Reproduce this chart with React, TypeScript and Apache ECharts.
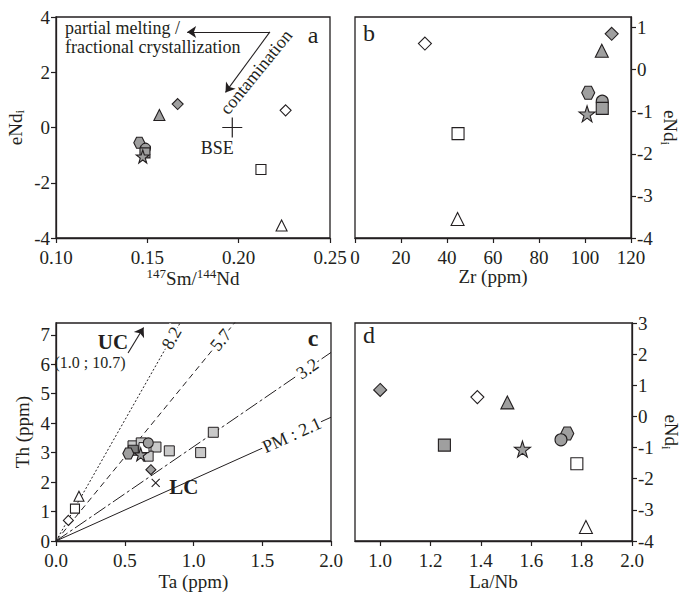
import React, { useEffect, useRef } from "react";
import * as echarts from "echarts";

// ---------- data ----------
// samples shared by panels a, b, d
const sampleIds = ["hex", "circ", "sq", "star", "tri", "dia", "oDia", "oSq", "oTri"];
const eNd = [-0.55, -0.75, -0.92, -1.05, 0.45, 0.85, 0.62, -1.52, -3.55];
const smNd = [0.1456, 0.149, 0.1487, 0.1475, 0.1566, 0.1666, 0.2257, 0.2122, 0.2235];
const zr = [101.4, 107.5, 107.5, 100.9, 107.3, 111.6, 30.4, 44.8, 44.6];
const laNb = [1.743, 1.718, 1.255, 1.565, 1.505, 1.0, 1.386, 1.781, 1.817];

// BSE reference point (panel a)
const bse = [0.1965, 0];

// panel c
const cSqTa = [0.56, 0.62, 0.727, 0.67, 0.824, 1.052, 1.144];
const cSqTh = [3.23, 3.33, 3.19, 2.88, 3.06, 3.0, 3.69];
const cWhiteSq = [0.64, 3.17];
const cDarkSq = [0.562, 3.08];
const cCircle = [0.671, 3.33];
const cHex = [0.526, 2.97];
const cStar = [0.616, 2.94];
const cDia = [0.69, 2.42];
const cOpenIds = ["oDia", "oSq", "oTri"];
const cOpenTa = [0.09, 0.138, 0.167];
const cOpenTh = [0.7, 1.1, 1.52];
const lc = [0.725, 1.97];
const refSlopes = [8.2, 5.7, 3.2, 2.1];
const refLabels = ["8.2", "5.7", "3.2", "PM : 2.1"];
const refLabelTa = [0.84, 1.198, 1.828, 1.714];

// annotation arrows (data coordinates)
const arrowPM = [[0.2171, 3.46], [0.1718, 3.46]];
const arrowCont = [[0.2171, 3.46], [0.1928, 1.27]];
const arrowUC = [[0.524, 6.38], [0.637, 7.25]];

// tick values
const bYTicks = [-4, -3, -2, -1, 0, 1];
const cYTicks = [0, 1, 2, 3, 4, 5, 6, 7];
const dXTicks = [1.0, 1.2, 1.4, 1.6, 1.8, 2.0];

// ---------- styles ----------
const FONT = '"Liberation Serif", "DejaVu Serif", serif';
const INK = "#231f20";
const GRAY = "#9f9f9f";
const LIGHT = "#c9c9c9";
const DARK = "#7d7d7d";
const HEX = "path://M25,0L75,0L100,43.3L75,86.6L25,86.6L0,43.3Z";
const STAR =
  "path://M50,0L61.8,35.1L98.5,35.1L68.8,57L79.4,91.1L50,70L20.6,91.1L31.2,57L1.5,35.1L38.2,35.1Z";
const PLUS = "path://M0,10L20,10M10,0L10,20";
const CROSS = "path://M0,0L10,10M10,0L0,10";

const symStyle: Record<string, { symbol: string; fill: string; k: number }> = {
  hex: { symbol: HEX, fill: GRAY, k: 1.0 },
  circ: { symbol: "circle", fill: GRAY, k: 0.95 },
  sq: { symbol: "rect", fill: GRAY, k: 0.9 },
  star: { symbol: STAR, fill: GRAY, k: 1.2 },
  tri: { symbol: "triangle", fill: GRAY, k: 1.0 },
  dia: { symbol: "diamond", fill: GRAY, k: 1.0 },
  oDia: { symbol: "diamond", fill: "#ffffff", k: 1.0 },
  oSq: { symbol: "rect", fill: "#ffffff", k: 0.9 },
  oTri: { symbol: "triangle", fill: "#ffffff", k: 1.0 },
};

const item = (id: string, value: number[], base: number) => {
  const s = symStyle[id];
  return {
    value,
    symbol: s.symbol,
    symbolSize: Math.round(base * s.k),
    itemStyle: { color: s.fill, borderColor: INK, borderWidth: 1.1, opacity: 1 },
  };
};

const axisCommon = {
  axisLine: { show: true, onZero: false, lineStyle: { color: INK, width: 1.3 } },
  axisTick: { show: true, inside: false, length: 5, lineStyle: { color: INK, width: 1.2 } },
  splitLine: { show: false },
  axisLabel: { color: INK, fontFamily: FONT, fontSize: 19, margin: 6, lineHeight: 16 },
  nameTextStyle: { color: INK, fontFamily: FONT, fontSize: 19 },
  nameLocation: "middle" as const,
};

const richSS = {
  sup: { fontSize: 13, fontFamily: FONT, color: INK, padding: [0, 0, 9, 0] },
  sub: { fontSize: 13, fontFamily: FONT, color: INK, padding: [9, 0, 0, 0] },
};

const labelText = {
  color: INK,
  fontFamily: FONT,
  textBorderWidth: 0,
  textBorderColor: "transparent",
  textShadowBlur: 0,
};

const arrowLine = (pairs: number[][][]) => ({
  silent: true,
  symbol: ["none", "arrow"],
  symbolSize: 9,
  label: { show: false },
  itemStyle: { color: INK, opacity: 1 },
  lineStyle: { color: INK, width: 1.1, type: "solid", opacity: 1 },
  data: pairs.map((p) => [{ coord: p[0] }, { coord: p[1] }]),
});

export default function App() {
  const ref = useRef<HTMLDivElement>(null);
  useEffect(() => {
    if (!ref.current) return;
    const chart = echarts.init(ref.current, null, { renderer: "svg" });

    const dashTypes: any[] = [[2, 2], [6, 4], [14, 3, 3, 3], "solid"];

    const option: any = {
      animation: false,
      backgroundColor: "#ffffff",
      grid: [
        { left: 56, top: 17, width: 274, height: 221, show: true, borderColor: INK, borderWidth: 1.3, backgroundColor: "transparent" },
        { left: 355, top: 17, width: 276, height: 221, show: true, borderColor: INK, borderWidth: 1.3, backgroundColor: "transparent" },
        { left: 56, top: 323, width: 275, height: 218, show: true, borderColor: INK, borderWidth: 1.3, backgroundColor: "transparent" },
        { left: 355, top: 323, width: 277, height: 218, show: true, borderColor: INK, borderWidth: 1.3, backgroundColor: "transparent" },
      ],
      xAxis: [
        {
          ...axisCommon, gridIndex: 0, type: "value", min: 0.1, max: 0.25, interval: 0.05,
          axisLabel: { ...axisCommon.axisLabel, margin: 11, formatter: (v: number) => v.toFixed(2) },
          name: "{sup|147}Sm/{sup|144}Nd", nameGap: 27,
          nameTextStyle: { ...axisCommon.nameTextStyle, rich: richSS },
        },
        {
          ...axisCommon, gridIndex: 1, type: "value", min: 0, max: 120, interval: 20,
          axisLabel: { ...axisCommon.axisLabel, margin: 11 },
          name: "Zr (ppm)", nameGap: 25,
        },
        {
          ...axisCommon, gridIndex: 2, type: "value", min: 0, max: 2, interval: 0.5,
          axisLabel: { ...axisCommon.axisLabel, margin: 11, formatter: (v: number) => v.toFixed(1) },
          name: "Ta (ppm)", nameGap: 31,
        },
        {
          ...axisCommon, gridIndex: 3, type: "value", min: 0.9, max: 2.0,
          axisTick: { ...axisCommon.axisTick, customValues: dXTicks },
          axisLabel: { ...axisCommon.axisLabel, margin: 11, customValues: dXTicks, formatter: (v: number) => v.toFixed(1) },
          name: "La/Nb", nameGap: 31,
        },
      ],
      yAxis: [
        {
          ...axisCommon, gridIndex: 0, type: "value", position: "left", min: -4, max: 4, interval: 2,
          name: "eNd{sub|i}", nameGap: 30, nameRotate: 90,
          nameTextStyle: { ...axisCommon.nameTextStyle, rich: richSS },
        },
        {
          ...axisCommon, gridIndex: 1, type: "value", position: "right", min: -4, max: 1.25,
          axisTick: { ...axisCommon.axisTick, customValues: bYTicks },
          axisLabel: { ...axisCommon.axisLabel, customValues: bYTicks },
          name: "eNd{sub|i}", nameGap: 28, nameRotate: -90,
          nameTextStyle: { ...axisCommon.nameTextStyle, rich: richSS },
        },
        {
          ...axisCommon, gridIndex: 2, type: "value", position: "left", min: 0, max: 7.4,
          axisTick: { ...axisCommon.axisTick, customValues: cYTicks },
          axisLabel: { ...axisCommon.axisLabel, customValues: cYTicks },
          name: "Th (ppm)", nameGap: 24, nameRotate: 90,
        },
        {
          ...axisCommon, gridIndex: 3, type: "value", position: "right", min: -4, max: 3, interval: 1,
          name: "eNd{sub|i}", nameGap: 28, nameRotate: -90,
          nameTextStyle: { ...axisCommon.nameTextStyle, rich: richSS },
        },
      ],
      series: [
        // panel a
        {
          type: "scatter", xAxisIndex: 0, yAxisIndex: 0, silent: true,
          itemStyle: { opacity: 1 },
          data: sampleIds.map((id, i) => item(id, [smNd[i], eNd[i]], 11)),
          markLine: arrowLine([arrowPM, arrowCont]),
        },
        {
          type: "scatter", xAxisIndex: 0, yAxisIndex: 0, silent: true,
          itemStyle: { opacity: 1 },
          data: [{
            value: bse, symbol: PLUS, symbolSize: 20,
            itemStyle: { color: "transparent", borderColor: INK, borderWidth: 1.2, opacity: 1 },
            label: {
              ...labelText, show: true, formatter: "BSE", position: "bottom", offset: [-15, -4],
              fontSize: 18,
            },
          }],
        },
        // panel b
        {
          type: "scatter", xAxisIndex: 1, yAxisIndex: 1, silent: true,
          itemStyle: { opacity: 1 },
          data: sampleIds.map((id, i) => item(id, [zr[i], eNd[i]], 13)),
        },
        // panel d
        {
          type: "scatter", xAxisIndex: 3, yAxisIndex: 3, silent: true,
          itemStyle: { opacity: 1 },
          data: sampleIds.map((id, i) => item(id, [laNb[i], eNd[i]], 13)),
        },
        // panel c reference lines
        ...refSlopes.map((s, k) => ({
          type: "line", xAxisIndex: 2, yAxisIndex: 2, silent: true, symbol: "none", clip: true,
          data: [[0, 0], [2, s * 2]],
          lineStyle: { color: INK, width: 1, type: dashTypes[k], opacity: 1 },
          z: 1,
        })),
        {
          type: "scatter", xAxisIndex: 2, yAxisIndex: 2, silent: true, symbolSize: 0, z: 3,
          itemStyle: { color: "#ffffff", opacity: 1 },
          data: refSlopes.map((s, k) => ({
            value: [refLabelTa[k], s * refLabelTa[k]],
            label: {
              ...labelText,
              show: true, position: "inside", formatter: refLabels[k],
              rotate: (Math.atan((s * 218) / 7.4 / (275 / 2)) * 180) / Math.PI,
              fontSize: 18,
              backgroundColor: "#ffffff", padding: [0, 1],
            },
          })),
        },
        // panel c points
        {
          type: "scatter", xAxisIndex: 2, yAxisIndex: 2, silent: true, z: 4,
          itemStyle: { opacity: 1 },
          data: [
            ...cSqTa.map((t, i) => ({
              value: [t, cSqTh[i]], symbol: "rect", symbolSize: 10,
              itemStyle: { color: LIGHT, borderColor: INK, borderWidth: 1, opacity: 1 },
            })),
            { value: cWhiteSq, symbol: "rect", symbolSize: 10, itemStyle: { color: "#ffffff", borderColor: INK, borderWidth: 1, opacity: 1 } },
            { value: cDarkSq, symbol: "rect", symbolSize: 10, itemStyle: { color: DARK, borderColor: INK, borderWidth: 1, opacity: 1 } },
            item("circ", cCircle, 11),
            item("hex", cHex, 11),
            item("star", cStar, 11),
            item("dia", cDia, 10),
            ...cOpenIds.map((id, i) => item(id, [cOpenTa[i], cOpenTh[i]], 10)),
            {
              value: lc, symbol: CROSS, symbolSize: 8,
              itemStyle: { color: "transparent", borderColor: INK, borderWidth: 1.1, opacity: 1 },
              label: {
                ...labelText, show: true, formatter: "LC", position: "right", offset: [4, 4],
                fontSize: 21, fontWeight: "bold",
              },
            },
          ],
          markLine: arrowLine([arrowUC]),
        },
      ],
      graphic: [
        { type: "text", left: 65, top: 19, style: { text: "partial melting /", font: `18px ${FONT}`, fill: INK } },
        { type: "text", left: 65, top: 38, style: { text: "fractional crystallization", font: `18px ${FONT}`, fill: INK } },
        {
          type: "text", x: 256, y: 72, rotation: (51 * Math.PI) / 180,
          style: { text: "contamination", font: `18px ${FONT}`, fill: INK, align: "center", verticalAlign: "middle" },
        },
        { type: "text", x: 313, y: 35, style: { text: "a", font: `24px ${FONT}`, fill: INK, align: "center", verticalAlign: "middle" } },
        { type: "text", x: 369, y: 33, style: { text: "b", font: `24px ${FONT}`, fill: INK, align: "center", verticalAlign: "middle" } },
        { type: "text", x: 313, y: 338, style: { text: "c", font: `bold 24px ${FONT}`, fill: INK, align: "center", verticalAlign: "middle" } },
        { type: "text", x: 369, y: 335, style: { text: "d", font: `24px ${FONT}`, fill: INK, align: "center", verticalAlign: "middle" } },
        { type: "text", x: 113, y: 342, style: { text: "UC", font: `bold 21px ${FONT}`, fill: INK, align: "center", verticalAlign: "middle" } },
        { type: "text", x: 90, y: 362, style: { text: "(1.0 ; 10.7)", font: `16px ${FONT}`, fill: INK, align: "center", verticalAlign: "middle" } },
      ],
    };
    chart.setOption(option);
    return () => chart.dispose();
  }, []);
  return (
    <div
      ref={ref}
      style={{ position: "absolute", left: 0, top: 0, width: 683, height: 594 }}
    />
  );
}
